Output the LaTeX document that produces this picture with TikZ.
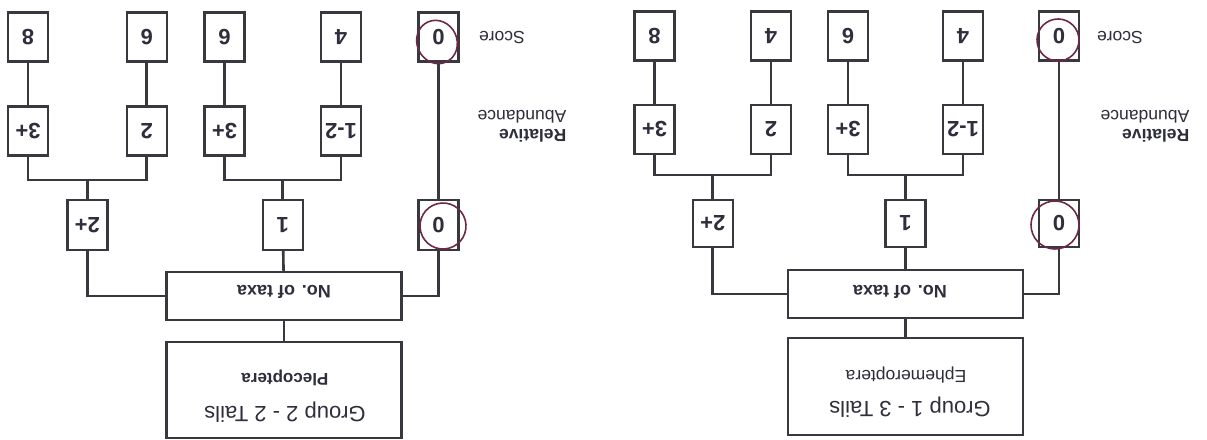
\documentclass[tikz,border=0pt]{standalone}
\usepackage{fontspec}
\setmainfont{Liberation Sans}
\usepackage{graphicx}
\newcommand\upsd[1]{\rotatebox[origin=c]{180}{#1}}
\definecolor{ink}{HTML}{38383E}
\definecolor{txt}{HTML}{2E2E3C}
\definecolor{pen}{HTML}{6E2848}
\begin{document}
\begin{tikzpicture}[x=1pt,y=-1pt,
  box/.style={draw=ink,line width=2.4pt,minimum width=40pt,minimum height=49pt,inner sep=0pt,text=txt,font=\bfseries\fontsize{22}{22}\selectfont},
  wide/.style={draw=ink,line width=2.4pt,minimum width=235pt,inner sep=0pt},
  link/.style={draw=ink,line width=2.6pt},
  lab/.style={text=txt,inner sep=0pt},
  circ/.style={draw=pen,line width=1.6pt}]
\useasboundingbox[fill=white] (0,0) rectangle (1207,439);

% ---------------- left group (Group 2) ----------------
\node[box] (LA1) at (28,37) {\upsd{8}};
\node[box] (LB1) at (146.7,37) {\upsd{6}};
\node[box] (LC1) at (224.5,37) {\upsd{6}};
\node[box] (LD1) at (341,37) {\upsd{4}};
\node[box] (LE1) at (438.5,37) {\upsd{0}};
\node[box] (LA2) at (28,131) {\upsd{3+}};
\node[box] (LB2) at (146.7,131) {\upsd{2}};
\node[box] (LC2) at (224.5,131) {\upsd{3+}};
\node[box] (LD2) at (341,131) {\upsd{1-2}};
\node[box,minimum height=50pt] (LX3) at (87.4,225) {\upsd{2+}};
\node[box,minimum height=50pt] (LY3) at (282.75,225) {\upsd{1}};
\node[box,minimum height=50pt] (LE3) at (438.5,225) {\upsd{0}};
\node[wide,minimum height=48pt] (Ltaxa) at (284,296) {};
\node[lab,font=\bfseries\fontsize{18}{18}\selectfont] (Ltaxat) at (284,292) {\upsd{No. of taxa}};
\node[wide,minimum height=96pt] (Lgrp) at (284,390) {};
\node[lab,font=\fontsize{22}{22}\selectfont] (Lgrpa) at (285,412) {\upsd{Group 2 - 2 Tails}};
\node[lab,font=\bfseries\fontsize{17}{17}\selectfont] (Lgrpb) at (285,378) {\upsd{Plecoptera}};
\node[lab,font=\fontsize{17.5}{17.5}\selectfont] (Lscore) at (502,38) {\upsd{Score}};
\node[lab,font=\fontsize{17.5}{19}\selectfont] (Lrel) at (522,124) {\upsd{\begin{tabular}{@{}l@{}}\textbf{Relative}\\Abundance\end{tabular}}};

\coordinate (Lj1) at (87.4,180);
\coordinate (Lj2) at (282.75,180);
\draw[link] (LA1) -- (LA2);
\draw[link] (LB1) -- (LB2);
\draw[link] (LC1) -- (LC2);
\draw[link] (LD1) -- (LD2);
\draw[link] (LA2.south) |- (Lj1) -| (LB2.south);
\draw[link] (Lj1) -- (LX3.north);
\draw[link] (LC2.south) |- (Lj2) -| (LD2.south);
\draw[link] (Lj2) -- (LY3.north);
\draw[link] (LE1) -- (LE3);
\draw[link] (LX3.south) |- (Ltaxa.west);
\draw[link] (LE3.south) |- (Ltaxa.east);
\draw[link] (LY3) -- (Ltaxa);
\draw[link] (Ltaxa) -- (Lgrp);

% ---------------- right group (Group 1) ----------------
\node[box] (RA1) at (654.5,36) {\upsd{8}};
\node[box] (RB1) at (771,36) {\upsd{4}};
\node[box] (RC1) at (848,36) {\upsd{6}};
\node[box] (RD1) at (963,36) {\upsd{4}};
\node[box] (RE1) at (1059,36) {\upsd{0}};
\node[box] (RA2) at (654.5,129.5) {\upsd{3+}};
\node[box] (RB2) at (771,129.5) {\upsd{2}};
\node[box] (RC2) at (848,129.5) {\upsd{3+}};
\node[box] (RD2) at (963,129.5) {\upsd{1-2}};
\node[box,minimum height=47pt] (RX3) at (712.75,223.5) {\upsd{2+}};
\node[box,minimum height=47pt] (RY3) at (905.5,223.5) {\upsd{1}};
\node[box,minimum height=47pt] (RE3) at (1059,223.5) {\upsd{0}};
\node[wide,minimum height=48pt] (Rtaxa) at (905.5,294) {};
\node[lab,font=\bfseries\fontsize{18}{18}\selectfont] (Rtaxat) at (900,292) {\upsd{No. of taxa}};
\node[wide,minimum height=97pt] (Rgrp) at (905.5,386.5) {};
\node[lab,font=\fontsize{22}{22}\selectfont] (Rgrpa) at (910,407) {\upsd{Group 1 - 3 Tails}};
\node[lab,font=\fontsize{17.5}{17.5}\selectfont] (Rgrpb) at (906,375) {\upsd{Ephemeroptera}};
\node[lab,font=\fontsize{17.5}{17.5}\selectfont] (Rscore) at (1120,38) {\upsd{Score}};
\node[lab,font=\fontsize{17.5}{19}\selectfont] (Rrel) at (1145,124) {\upsd{\begin{tabular}{@{}l@{}}\textbf{Relative}\\Abundance\end{tabular}}};

\coordinate (Rj1) at (712.75,175);
\coordinate (Rj2) at (905.5,175);
\draw[link] (RA1) -- (RA2);
\draw[link] (RB1) -- (RB2);
\draw[link] (RC1) -- (RC2);
\draw[link] (RD1) -- (RD2);
\draw[link] (RA2.south) |- (Rj1) -| (RB2.south);
\draw[link] (Rj1) -- (RX3.north);
\draw[link] (RC2.south) |- (Rj2) -| (RD2.south);
\draw[link] (Rj2) -- (RY3.north);
\draw[link] (RE1) -- (RE3);
\draw[link] (RX3.south) |- (Rtaxa.west);
\draw[link] (RE3.south) |- (Rtaxa.east);
\draw[link] (RY3) -- (Rtaxa);
\draw[link] (Rtaxa) -- (Rgrp);

% ---------------- hand-drawn circles ----------------
\draw[circ,rotate around={25:(437,42)}] (437,42) ellipse (20pt and 22pt);
\draw[circ,rotate around={15:(443,226)}] (443,226) ellipse (23pt and 23pt);
\draw[circ,rotate around={10:(1058,40)}] (1058,40) ellipse (21pt and 21pt);
\draw[circ,rotate around={10:(1055,225)}] (1055,225) ellipse (24pt and 24pt);
\end{tikzpicture}
\end{document}
